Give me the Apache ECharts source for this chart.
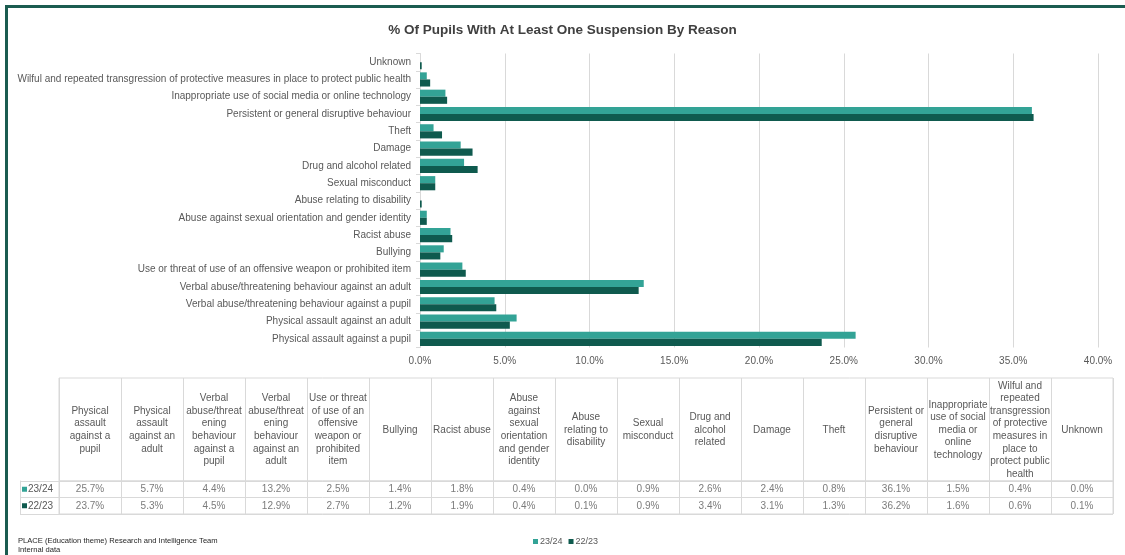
<!DOCTYPE html>
<html>
<head>
<meta charset="utf-8">
<script src="https://cdn.jsdelivr.net/npm/echarts@6/dist/echarts.min.js"></script>
<style>
  html, body { margin: 0; padding: 0; background: #ffffff; }
  #chart { width: 1125px; height: 555px; }
</style>
</head>
<body>
<div id="chart"></div>
<script>
// Suspension reasons (table order; first item sits at the bottom of the bar chart)
const reasons = [
  'Physical assault against a pupil',
  'Physical assault against an adult',
  'Verbal abuse/threatening behaviour against a pupil',
  'Verbal abuse/threatening behaviour against an adult',
  'Use or threat of use of an offensive weapon or prohibited item',
  'Bullying',
  'Racist abuse',
  'Abuse against sexual orientation and gender identity',
  'Abuse relating to disability',
  'Sexual misconduct',
  'Drug and alcohol related',
  'Damage',
  'Theft',
  'Persistent or general disruptive behaviour',
  'Inappropriate use of social media or online technology',
  'Wilful and repeated transgression of protective measures in place to protect public health',
  'Unknown'
];

// Wrapped column headings for the data table (same order as reasons)
const tableHeaders = [
  'Physical\nassault\nagainst a\npupil',
  'Physical\nassault\nagainst an\nadult',
  'Verbal\nabuse/threat\nening\nbehaviour\nagainst a\npupil',
  'Verbal\nabuse/threat\nening\nbehaviour\nagainst an\nadult',
  'Use or threat\nof use of an\noffensive\nweapon or\nprohibited\nitem',
  'Bullying',
  'Racist abuse',
  'Abuse\nagainst\nsexual\norientation\nand gender\nidentity',
  'Abuse\nrelating to\ndisability',
  'Sexual\nmisconduct',
  'Drug and\nalcohol\nrelated',
  'Damage',
  'Theft',
  'Persistent or\ngeneral\ndisruptive\nbehaviour',
  'Inappropriate\nuse of social\nmedia or\nonline\ntechnology',
  'Wilful and\nrepeated\ntransgression\nof protective\nmeasures in\nplace to\nprotect public\nhealth',
  'Unknown'
];

// % of pupils with at least one suspension, per year
const pct2324 = [25.7, 5.7, 4.4, 13.2, 2.5, 1.4, 1.8, 0.4, 0.0, 0.9, 2.6, 2.4, 0.8, 36.1, 1.5, 0.4, 0.0];
const pct2223 = [23.7, 5.3, 4.5, 12.9, 2.7, 1.2, 1.9, 0.4, 0.1, 0.9, 3.4, 3.1, 1.3, 36.2, 1.6, 0.6, 0.1];

const yearNames = ['23/24', '22/23'];
const tableRows = ['22/23', '23/24']; // bottom-to-top order of the data table rows

const xTicks = { min: 0, max: 40, interval: 5 };

const COL_A = '#33a396';
const COL_B = '#0f5a4e';
const GRID_LINE = '#d9d9d9';
const TXT = '#595959';
const SANS = '"Liberation Sans", Arial, sans-serif';

const chart = echarts.init(document.getElementById('chart'), null, { renderer: 'canvas' });

// cell points for the data table: [column, row, value]
function cells(values, rowName) {
  return values.map((v, i) => [i, rowName, v]);
}

chart.setOption({
  backgroundColor: '#ffffff',
  animation: false,
  color: [COL_A, COL_B],
  title: [
    {
      text: '% Of Pupils With At Least One Suspension By Reason',
      left: 'center',
      top: 18,
      textStyle: { fontFamily: SANS, fontSize: 13.5, fontWeight: 'bold', color: '#404040' }
    },
    {
      text: 'PLACE (Education theme) Research and Intelligence Team\nInternal data',
      left: 18,
      top: 537,
      padding: 0,
      textStyle: { fontFamily: SANS, fontSize: 7.6, fontWeight: 'normal', color: '#262626', lineHeight: 8.5 }
    }
  ],
  legend: {
    data: yearNames,
    left: 533,
    top: 537,
    padding: 0,
    icon: 'rect',
    itemWidth: 5,
    itemHeight: 5,
    itemGap: 6,
    textStyle: { fontFamily: SANS, fontSize: 9, color: TXT, padding: [0, 0, 0, -3] }
  },
  graphic: [
    { type: 'rect', shape: { x: 5, y: 5, width: 1120, height: 3 }, style: { fill: '#1b5c50' }, silent: true },
    { type: 'rect', shape: { x: 5, y: 5, width: 3, height: 550 }, style: { fill: '#1b5c50' }, silent: true }
  ],
  grid: [
    // bar chart
    { left: 420, right: 27, top: 53.5, bottom: 207.5, outerBoundsMode: 'none' },
    // table header
    { left: 59, right: 12, top: 378, height: 103, show: true, borderColor: GRID_LINE, borderWidth: 1, outerBoundsMode: 'none' },
    // table values
    { left: 59, right: 12, top: 481, height: 33, show: true, borderColor: GRID_LINE, borderWidth: 1, outerBoundsMode: 'none' }
  ],
  xAxis: [
    {
      type: 'value', gridIndex: 0,
      min: xTicks.min, max: xTicks.max, interval: xTicks.interval,
      axisLine: { show: false }, axisTick: { show: false },
      splitLine: { lineStyle: { color: GRID_LINE, width: 1 } },
      axisLabel: {
        margin: 9, color: TXT, fontFamily: SANS, fontSize: 10,
        formatter: v => v.toFixed(1) + '%'
      }
    },
    {
      type: 'category', gridIndex: 1, data: tableHeaders, position: 'top',
      axisLine: { show: false }, axisTick: { show: false },
      splitLine: { show: true, interval: 0, lineStyle: { color: GRID_LINE } },
      axisLabel: {
        inside: true, interval: 0, margin: 52, verticalAlign: 'middle',
        lineHeight: 12.6, color: TXT, fontFamily: SANS, fontSize: 10
      }
    },
    {
      type: 'category', gridIndex: 2, data: reasons,
      axisLine: { show: false }, axisTick: { show: false }, axisLabel: { show: false },
      splitLine: { show: true, interval: 0, lineStyle: { color: GRID_LINE } }
    }
  ],
  yAxis: [
    {
      type: 'category', gridIndex: 0, data: reasons,
      axisLine: { show: true, lineStyle: { color: GRID_LINE } },
      axisTick: { show: true, length: 4, lineStyle: { color: GRID_LINE } },
      axisLabel: { margin: 9, interval: 0, color: TXT, fontFamily: SANS, fontSize: 10 }
    },
    { type: 'value', gridIndex: 1, show: false },
    {
      type: 'category', gridIndex: 2, data: tableRows,
      axisLine: { show: false },
      axisTick: { show: true, length: 39, lineStyle: { color: GRID_LINE } },
      splitLine: { show: true, lineStyle: { color: GRID_LINE } },
      axisLabel: {
        align: 'left', margin: 37, color: TXT, fontFamily: SANS, fontSize: 10,
        formatter: name => '{' + (name === '23/24' ? 'a' : 'b') + '|}{t|' + name + '}',
        rich: {
          a: { width: 5, height: 5, backgroundColor: COL_A },
          b: { width: 5, height: 5, backgroundColor: COL_B },
          t: { color: TXT, fontFamily: SANS, fontSize: 10, padding: [0, 0, 0, 1] }
        }
      }
    },
    {
      type: 'category', gridIndex: 2, data: tableRows, position: 'left', offset: 39,
      axisLine: { show: true, lineStyle: { color: GRID_LINE } },
      axisTick: { show: false }, axisLabel: { show: false }
    }
  ],
  series: [
    {
      name: '23/24', type: 'bar', xAxisIndex: 0, yAxisIndex: 0,
      data: pct2324, barGap: '0%', barCategoryGap: '18%',
      itemStyle: { color: COL_A }
    },
    {
      name: '22/23', type: 'bar', xAxisIndex: 0, yAxisIndex: 0,
      data: pct2223, barGap: '0%', barCategoryGap: '18%',
      itemStyle: { color: COL_B }
    },
    ...[['23/24', pct2324], ['22/23', pct2223]].map(([row, vals]) => ({
      name: row + ' table', type: 'scatter', xAxisIndex: 2, yAxisIndex: 2,
      symbol: 'circle', symbolSize: 2, itemStyle: { color: 'rgba(0,0,0,0)' },
      silent: true,
      data: cells(vals, row),
      label: {
        show: true, position: 'inside', color: TXT, fontFamily: SANS, fontSize: 10,
        formatter: p => p.value[2].toFixed(1) + '%'
      }
    }))
  ]
});
</script>
</body>
</html>
